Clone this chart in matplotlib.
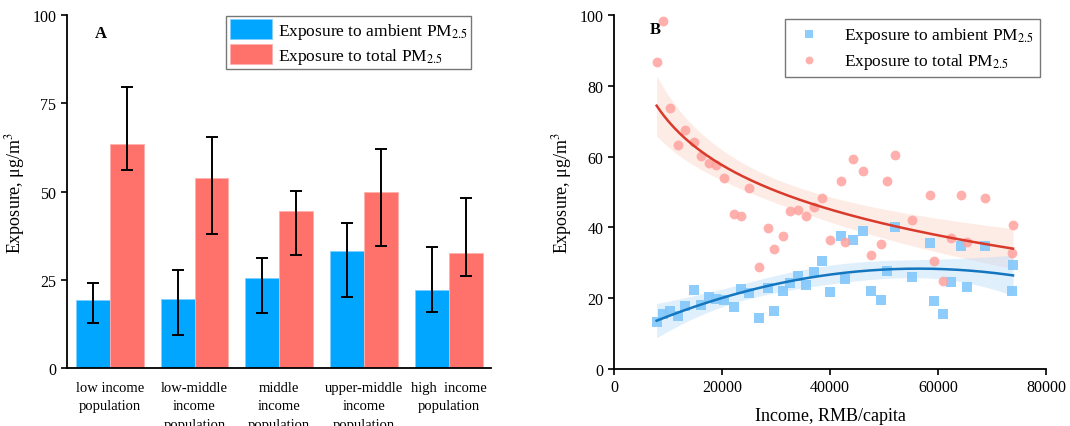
import numpy as np
import matplotlib.pyplot as plt

plt.rcParams['font.family'] = ['Liberation Serif', 'DejaVu Serif']
plt.rcParams['mathtext.fontset'] = 'stix'

# panel A data
groups = ['low income\npopulation', 'low-middle\nincome\npopulation', 'middle\nincome\npopulation',
          'upper-middle\nincome\npopulation', 'high  income\npopulation']
ambient_mean = [19.3, 19.6, 25.7, 33.3, 22.1]
ambient_hi = [24.1, 28.0, 31.3, 41.1, 34.5]
ambient_lo = [12.8, 9.6, 15.8, 20.3, 16.1]
total_mean = [63.6, 54.0, 44.6, 49.8, 32.6]
total_hi = [79.5, 65.5, 50.3, 62.0, 48.3]
total_lo = [56.1, 38.0, 32.1, 34.6, 26.3]

# panel B data
income = [7900, 9080, 10380, 11800, 13220, 14830, 16120, 17610, 18840, 20330,
          22240, 23480, 24960, 26810, 28480, 29650, 31260, 32620, 34100, 35590,
          37070, 38490, 40030, 42010, 42870, 44230, 46090, 47510, 49490, 50540,
          52080, 55170, 58440, 59310, 60850, 62340, 64250, 65360, 68700, 73890, 73700]
total_pts = [86.8, 98.3, 73.7, 63.4, 67.6, 64.2, 60.3, 58.2, 57.7, 53.9,
             43.9, 43.3, 51.2, 28.7, 39.8, 33.8, 37.5, 44.7, 44.9, 43.1,
             45.9, 48.2, 36.4, 53.1, 35.9, 59.2, 56.0, 32.2, 35.3, 53.1,
             60.5, 42.1, 49.2, 30.6, 24.9, 36.9, 49.2, 36.0, 48.3, 40.8, 32.8]
ambient_pts = [13.2, 15.5, 16.3, 15.1, 17.7, 22.3, 18.2, 20.2, 19.8, 19.6,
               17.6, 22.7, 21.5, 14.4, 22.9, 16.3, 22.1, 24.4, 26.4, 23.7,
               27.5, 30.6, 21.8, 37.7, 25.4, 36.3, 39.1, 22.1, 19.6, 27.8,
               40.1, 26.1, 35.5, 19.3, 15.6, 24.7, 34.7, 23.3, 34.7, 29.5, 22.1]

c_blue = '#00a6ff'
c_red = '#ff716b'

fig = plt.figure(figsize=(10.7, 4.27), dpi=100)
ax1 = fig.add_axes([0.0623, 0.1347, 0.3966, 0.8278])
ax2 = fig.add_axes([0.5738, 0.1335, 0.4038, 0.829])

# ---- panel A
x = np.arange(len(groups))
w = 0.4
am = np.array(ambient_mean)
tm = np.array(total_mean)
ax1.bar(x - w / 2, am, w, color=c_blue, edgecolor='#7fd0ff', linewidth=0.6,
        label='Exposure to ambient PM$_{2.5}$')
ax1.bar(x + w / 2, tm, w, color=c_red, edgecolor='#ffb0ad', linewidth=0.6,
        label='Exposure to total PM$_{2.5}$')
ax1.errorbar(x - w / 2, am, yerr=[am - np.array(ambient_lo), np.array(ambient_hi) - am],
             fmt='none', ecolor='black', elinewidth=1.4, capsize=4, capthick=1.4)
ax1.errorbar(x + w / 2, tm, yerr=[tm - np.array(total_lo), np.array(total_hi) - tm],
             fmt='none', ecolor='black', elinewidth=1.4, capsize=4, capthick=1.4)
ax1.set_xlim(-0.51, 4.5)
ax1.set_ylim(0, 100)
ax1.set_yticks([0, 25, 50, 75, 100])
ax1.set_xticks(x)
ax1.set_xticklabels(groups, fontsize=10.5, linespacing=1.55)
ax1.tick_params(axis='x', length=0, pad=9)
ax1.tick_params(axis='y', labelsize=11.5, width=1.2, length=4)
ax1.set_ylabel('Exposure, μg/m$^3$', fontsize=13)
ax1.text(0.08, 0.95, 'A', transform=ax1.transAxes, fontsize=12, fontweight='bold',
         ha='center', va='center')
leg = ax1.legend(loc='upper right', bbox_to_anchor=(0.955, 1.0), fontsize=12.5,
                 frameon=True, fancybox=False, edgecolor='#555555',
                 handlelength=2.4, handleheight=1.35, borderaxespad=0.05,
                 borderpad=0.2, labelspacing=0.2, handletextpad=0.35)
leg.get_frame().set_linewidth(1.0)

# ---- panel B
inc = np.array(income, dtype=float)
tot = np.array(total_pts)
amb = np.array(ambient_pts)
xs = np.linspace(inc.min(), inc.max(), 200)


def fit_band(X, Xs, y):
    beta, res, rk, sv = np.linalg.lstsq(X, y, rcond=None)
    n, p = X.shape
    s2 = np.sum((y - X @ beta) ** 2) / (n - p)
    cov = s2 * np.linalg.inv(X.T @ X)
    yh = Xs @ beta
    se = np.sqrt(np.einsum('ij,jk,ik->i', Xs, cov, Xs))
    return yh, 2.02 * se


# log fit for total, quadratic fit for ambient
Xt = np.column_stack([np.ones_like(inc), np.log(inc)])
Xts = np.column_stack([np.ones_like(xs), np.log(xs)])
yt, bt = fit_band(Xt, Xts, tot)
xa = inc / 1e4
xsa = xs / 1e4
Xa = np.column_stack([np.ones_like(xa), xa, xa ** 2])
Xas = np.column_stack([np.ones_like(xsa), xsa, xsa ** 2])
ya, ba = fit_band(Xa, Xas, amb)

ax2.fill_between(xs, yt - bt, yt + bt, color='#fdd9cc', alpha=0.5, linewidth=0)
ax2.fill_between(xs, ya - ba, ya + ba, color='#bcdcfa', alpha=0.45, linewidth=0)
ax2.scatter(inc, amb, marker='s', s=42, color='#82c8fb', alpha=0.9, linewidths=0,
            label='Exposure to ambient PM$_{2.5}$', zorder=3)
ax2.scatter(inc, tot, marker='o', s=50, color='#ffa39e', alpha=0.85, linewidths=0,
            label='Exposure to total PM$_{2.5}$', zorder=3)
ax2.plot(xs, yt, color='#d93a2b', linewidth=1.8, zorder=4)
ax2.plot(xs, ya, color='#1376be', linewidth=1.8, zorder=4)
ax2.set_xlim(0, 80000)
ax2.set_ylim(0, 100)
ax2.set_xticks([0, 20000, 40000, 60000, 80000])
ax2.set_yticks([0, 20, 40, 60, 80, 100])
ax2.tick_params(labelsize=11.5, width=1.2, length=4)
ax2.set_ylabel('Exposure, μg/m$^3$', fontsize=13)
ax2.set_xlabel('Income, RMB/capita', fontsize=13, labelpad=8)
ax2.text(0.095, 0.96, 'B', transform=ax2.transAxes, fontsize=12, fontweight='bold',
         ha='center', va='center')
leg2 = ax2.legend(loc='upper right', bbox_to_anchor=(0.985, 0.99), fontsize=12.5,
                  frameon=True, fancybox=False, edgecolor='#555555',
                  borderaxespad=0.0, borderpad=0.35, labelspacing=0.35,
                  handletextpad=1.0, markerscale=0.8)
leg2.get_frame().set_linewidth(1.0)

for ax in (ax1, ax2):
    ax.spines['top'].set_visible(False)
    ax.spines['right'].set_visible(False)
    ax.spines['left'].set_linewidth(1.3)
    ax.spines['bottom'].set_linewidth(1.3)

fig.savefig('out.png', dpi=100)
